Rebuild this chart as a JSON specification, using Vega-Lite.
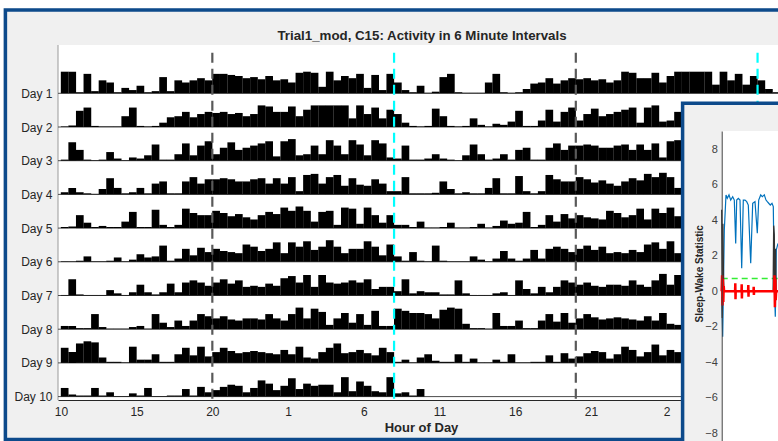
{
  "$schema": "https://vega.github.io/schema/vega-lite/v6.json",
  "width": 720,
  "height": 355,
  "autosize": {"type": "none"},
  "padding": {"left": 58, "top": 45, "right": 0, "bottom": 41},
  "background": "#f0f0f0",
  "view": {"fill": "white", "stroke": null},
  "config": {"font": "Liberation Sans", "view": {"stroke": null}},
  "title": {
    "text": "Trial1_mod, C15: Activity in 6 Minute Intervals",
    "frame": "group", "anchor": "middle", "offset": -43.6, "dx": 4,
    "fontSize": 13.3, "fontWeight": "bold", "color": "#262626"
  },
  "datasets": {
    "days": [{"d":1},{"d":2},{"d":3},{"d":4},{"d":5},{"d":6},{"d":7},{"d":8},{"d":9},{"d":10}],
    "vl": [{"h":20,"k":"pm"},{"h":32,"k":"am"},{"h":44,"k":"pm"},{"h":56,"k":"am"}],
    "thr": [{"t":0,"s":0.72},{"t":56.3,"s":0.72}],
    "sw": [{"t":0,"s":-0.3},{"t":1,"s":-2.56},{"t":2.6,"s":3.45},{"t":4.3,"s":5.43},{"t":5.6,"s":5.24},{"t":7.3,"s":5.43},{"t":9,"s":5.14},{"t":11,"s":5.33},{"t":12.6,"s":5.14},{"t":14,"s":2.7},{"t":15,"s":5.14},{"t":16.6,"s":5.24},{"t":18.3,"s":5.14},{"t":20,"s":1.3},{"t":21.6,"s":5.14},{"t":23.3,"s":5.14},{"t":25,"s":5.05},{"t":26.6,"s":4.86},{"t":29,"s":1.58},{"t":31,"s":4.96},{"t":33.3,"s":5.05},{"t":35.6,"s":3.27},{"t":37,"s":5.14},{"t":39,"s":5.43},{"t":40.6,"s":5.33},{"t":42.6,"s":5.43},{"t":44.3,"s":5.14},{"t":45.6,"s":5.05},{"t":47,"s":4.96},{"t":48.6,"s":4.86},{"t":50.3,"s":4.96},{"t":51.6,"s":4.77},{"t":52.6,"s":0.26},{"t":53.6,"s":-1.43},{"t":54.6,"s":2.33},{"t":56.3,"s":2.7}],
    "blk": [{"t":0,"s":4.6},{"t":0.6,"s":-1.5},{"t":1.2,"s":3.8},{"t":1.8,"s":0.6},{"t":2.4,"s":0},{"t":51.4,"s":0},{"t":52,"s":3.7},{"t":52.6,"s":3.2},{"t":53.2,"s":-0.6},{"t":53.8,"s":2.4},{"t":54.4,"s":0},{"t":56.3,"s":0}],
    "red": [{"t":0,"s":0},{"t":0.4,"s":0.9},{"t":0.8,"s":-0.8},{"t":1.2,"s":0.7},{"t":1.6,"s":-0.6},{"t":2,"s":0.3},{"t":2.4,"s":0},{"t":13.4,"s":0},{"t":13.6,"s":0.45},{"t":13.8,"s":-0.45},{"t":14,"s":0},{"t":19.8,"s":0},{"t":20,"s":0.4},{"t":20.2,"s":-0.4},{"t":20.4,"s":0},{"t":26.4,"s":0},{"t":26.6,"s":0.35},{"t":26.8,"s":-0.3},{"t":27,"s":0},{"t":31.8,"s":0},{"t":32,"s":0.25},{"t":32.2,"s":-0.2},{"t":32.4,"s":0},{"t":52.4,"s":0},{"t":52.8,"s":0.9},{"t":53.2,"s":-0.9},{"t":53.6,"s":0.7},{"t":54,"s":-0.5},{"t":54.4,"s":0},{"t":56.3,"s":0}],
    "act": [
{"d":1,"h":10.25,"a":20},{"d":1,"h":10.75,"a":20},{"d":1,"h":11.25,"a":1},{"d":1,"h":11.75,"a":18},{"d":1,"h":12.25,"a":2},{"d":1,"h":12.75,"a":12},{"d":1,"h":13.25,"a":10},{"d":1,"h":13.75,"a":1},{"d":1,"h":14.25,"a":5},{"d":1,"h":14.75,"a":3},{"d":1,"h":15.25,"a":7},{"d":1,"h":15.75,"a":1},{"d":1,"h":16.25,"a":2},{"d":1,"h":16.75,"a":15},{"d":1,"h":17.25,"a":2},{"d":1,"h":17.75,"a":12},{"d":1,"h":18.25,"a":10},{"d":1,"h":18.75,"a":12},{"d":1,"h":19.25,"a":14},{"d":1,"h":19.75,"a":12},{"d":1,"h":20.25,"a":18},{"d":1,"h":20.75,"a":18},{"d":1,"h":21.25,"a":17},{"d":1,"h":21.75,"a":16},
{"d":1,"h":22.25,"a":14},{"d":1,"h":22.75,"a":15},{"d":1,"h":23.25,"a":13},{"d":1,"h":23.75,"a":16},{"d":1,"h":24.25,"a":12},{"d":1,"h":24.75,"a":13},{"d":1,"h":25.25,"a":10},{"d":1,"h":25.75,"a":19},{"d":1,"h":26.25,"a":20},{"d":1,"h":26.75,"a":19},{"d":1,"h":27.25,"a":6},{"d":1,"h":27.75,"a":20},{"d":1,"h":28.25,"a":12},{"d":1,"h":28.75,"a":16},{"d":1,"h":29.25,"a":14},{"d":1,"h":29.75,"a":18},{"d":1,"h":30.25,"a":5},{"d":1,"h":30.75,"a":17},{"d":1,"h":31.25,"a":3},{"d":1,"h":31.75,"a":18},{"d":1,"h":32.25,"a":10},{"d":1,"h":32.75,"a":3},{"d":1,"h":33.25,"a":1},{"d":1,"h":33.75,"a":7},
{"d":1,"h":34.25,"a":0.5},{"d":1,"h":34.75,"a":1.5},{"d":1,"h":35.25,"a":15},{"d":1,"h":35.75,"a":18},{"d":1,"h":36.25,"a":1},{"d":1,"h":36.75,"a":0.5},{"d":1,"h":37.25,"a":0.5},{"d":1,"h":37.75,"a":0.5},{"d":1,"h":38.25,"a":10},{"d":1,"h":38.75,"a":18},{"d":1,"h":39.25,"a":1},{"d":1,"h":39.75,"a":0.5},{"d":1,"h":40.25,"a":1},{"d":1,"h":40.75,"a":4},{"d":1,"h":41.25,"a":9},{"d":1,"h":41.75,"a":10},{"d":1,"h":42.25,"a":14},{"d":1,"h":42.75,"a":9},{"d":1,"h":43.25,"a":12},{"d":1,"h":43.75,"a":14},{"d":1,"h":44.25,"a":13},{"d":1,"h":44.75,"a":14},{"d":1,"h":45.25,"a":12},{"d":1,"h":45.75,"a":13},
{"d":1,"h":46.25,"a":10},{"d":1,"h":46.75,"a":12},{"d":1,"h":47.25,"a":20},{"d":1,"h":47.75,"a":19},{"d":1,"h":48.25,"a":14},{"d":1,"h":48.75,"a":14},{"d":1,"h":49.25,"a":19},{"d":1,"h":49.75,"a":10},{"d":1,"h":50.25,"a":16},{"d":1,"h":50.75,"a":20},{"d":1,"h":51.25,"a":20},{"d":1,"h":51.75,"a":20},{"d":1,"h":52.25,"a":20},{"d":1,"h":52.75,"a":20},{"d":1,"h":53.25,"a":8},{"d":1,"h":53.75,"a":20},{"d":1,"h":54.25,"a":12},{"d":1,"h":54.75,"a":18},{"d":1,"h":55.25,"a":8},{"d":1,"h":55.75,"a":16},{"d":1,"h":56.25,"a":12},{"d":1,"h":56.75,"a":4},{"d":1,"h":57.25,"a":1},{"d":1,"h":57.75,"a":0.5},
{"d":2,"h":10.25,"a":0.5},{"d":2,"h":10.75,"a":1.5},{"d":2,"h":11.25,"a":15},{"d":2,"h":11.75,"a":18},{"d":2,"h":12.25,"a":1},{"d":2,"h":12.75,"a":0.5},{"d":2,"h":13.25,"a":0.5},{"d":2,"h":13.75,"a":0.5},{"d":2,"h":14.25,"a":10},{"d":2,"h":14.75,"a":18},{"d":2,"h":15.25,"a":1},{"d":2,"h":15.75,"a":0.5},{"d":2,"h":16.25,"a":1},{"d":2,"h":16.75,"a":4},{"d":2,"h":17.25,"a":9},{"d":2,"h":17.75,"a":10},{"d":2,"h":18.25,"a":14},{"d":2,"h":18.75,"a":9},{"d":2,"h":19.25,"a":12},{"d":2,"h":19.75,"a":14},{"d":2,"h":20.25,"a":13},{"d":2,"h":20.75,"a":14},{"d":2,"h":21.25,"a":12},{"d":2,"h":21.75,"a":13},
{"d":2,"h":22.25,"a":10},{"d":2,"h":22.75,"a":12},{"d":2,"h":23.25,"a":20},{"d":2,"h":23.75,"a":19},{"d":2,"h":24.25,"a":14},{"d":2,"h":24.75,"a":14},{"d":2,"h":25.25,"a":19},{"d":2,"h":25.75,"a":10},{"d":2,"h":26.25,"a":16},{"d":2,"h":26.75,"a":20},{"d":2,"h":27.25,"a":20},{"d":2,"h":27.75,"a":20},{"d":2,"h":28.25,"a":20},{"d":2,"h":28.75,"a":20},{"d":2,"h":29.25,"a":8},{"d":2,"h":29.75,"a":20},{"d":2,"h":30.25,"a":12},{"d":2,"h":30.75,"a":18},{"d":2,"h":31.25,"a":8},{"d":2,"h":31.75,"a":16},{"d":2,"h":32.25,"a":12},{"d":2,"h":32.75,"a":4},{"d":2,"h":33.25,"a":1},{"d":2,"h":33.75,"a":0.5},
{"d":2,"h":34.25,"a":1},{"d":2,"h":34.75,"a":17},{"d":2,"h":35.25,"a":10},{"d":2,"h":35.75,"a":1},{"d":2,"h":36.25,"a":0.5},{"d":2,"h":36.75,"a":1},{"d":2,"h":37.25,"a":8},{"d":2,"h":37.75,"a":2},{"d":2,"h":38.25,"a":0.5},{"d":2,"h":38.75,"a":3},{"d":2,"h":39.25,"a":2},{"d":2,"h":39.75,"a":5},{"d":2,"h":40.25,"a":15},{"d":2,"h":40.75,"a":1},{"d":2,"h":41.25,"a":1},{"d":2,"h":41.75,"a":6},{"d":2,"h":42.25,"a":16},{"d":2,"h":42.75,"a":5},{"d":2,"h":43.25,"a":14},{"d":2,"h":43.75,"a":18},{"d":2,"h":44.25,"a":6},{"d":2,"h":44.75,"a":12},{"d":2,"h":45.25,"a":17},{"d":2,"h":45.75,"a":10},
{"d":2,"h":46.25,"a":12},{"d":2,"h":46.75,"a":14},{"d":2,"h":47.25,"a":16},{"d":2,"h":47.75,"a":18},{"d":2,"h":48.25,"a":4},{"d":2,"h":48.75,"a":18},{"d":2,"h":49.25,"a":20},{"d":2,"h":49.75,"a":5},{"d":2,"h":50.25,"a":6},{"d":2,"h":50.75,"a":14},{"d":2,"h":51.25,"a":6},{"d":2,"h":51.75,"a":19},{"d":2,"h":52.25,"a":14},{"d":2,"h":52.75,"a":6},{"d":2,"h":53.25,"a":19},{"d":2,"h":53.75,"a":15},{"d":2,"h":54.25,"a":5},{"d":2,"h":54.75,"a":19},{"d":2,"h":55.25,"a":16},{"d":2,"h":55.75,"a":3},{"d":2,"h":56.25,"a":2},{"d":2,"h":56.75,"a":14},{"d":2,"h":57.25,"a":1},{"d":2,"h":57.75,"a":1},
{"d":3,"h":10.25,"a":1},{"d":3,"h":10.75,"a":17},{"d":3,"h":11.25,"a":10},{"d":3,"h":11.75,"a":1},{"d":3,"h":12.25,"a":0.5},{"d":3,"h":12.75,"a":1},{"d":3,"h":13.25,"a":8},{"d":3,"h":13.75,"a":2},{"d":3,"h":14.25,"a":0.5},{"d":3,"h":14.75,"a":3},{"d":3,"h":15.25,"a":2},{"d":3,"h":15.75,"a":5},{"d":3,"h":16.25,"a":15},{"d":3,"h":16.75,"a":1},{"d":3,"h":17.25,"a":1},{"d":3,"h":17.75,"a":6},{"d":3,"h":18.25,"a":16},{"d":3,"h":18.75,"a":5},{"d":3,"h":19.25,"a":14},{"d":3,"h":19.75,"a":18},{"d":3,"h":20.25,"a":6},{"d":3,"h":20.75,"a":12},{"d":3,"h":21.25,"a":17},{"d":3,"h":21.75,"a":10},
{"d":3,"h":22.25,"a":12},{"d":3,"h":22.75,"a":14},{"d":3,"h":23.25,"a":16},{"d":3,"h":23.75,"a":18},{"d":3,"h":24.25,"a":4},{"d":3,"h":24.75,"a":18},{"d":3,"h":25.25,"a":20},{"d":3,"h":25.75,"a":5},{"d":3,"h":26.25,"a":6},{"d":3,"h":26.75,"a":14},{"d":3,"h":27.25,"a":6},{"d":3,"h":27.75,"a":19},{"d":3,"h":28.25,"a":14},{"d":3,"h":28.75,"a":6},{"d":3,"h":29.25,"a":19},{"d":3,"h":29.75,"a":15},{"d":3,"h":30.25,"a":5},{"d":3,"h":30.75,"a":19},{"d":3,"h":31.25,"a":16},{"d":3,"h":31.75,"a":3},{"d":3,"h":32.25,"a":2},{"d":3,"h":32.75,"a":14},{"d":3,"h":33.25,"a":1},{"d":3,"h":33.75,"a":1},
{"d":3,"h":34.25,"a":2},{"d":3,"h":34.75,"a":6},{"d":3,"h":35.25,"a":2},{"d":3,"h":35.75,"a":1},{"d":3,"h":36.25,"a":0.5},{"d":3,"h":36.75,"a":5},{"d":3,"h":37.25,"a":15},{"d":3,"h":37.75,"a":6},{"d":3,"h":38.25,"a":1},{"d":3,"h":38.75,"a":2},{"d":3,"h":39.25,"a":6},{"d":3,"h":39.75,"a":1},{"d":3,"h":40.25,"a":10},{"d":3,"h":40.75,"a":12},{"d":3,"h":41.25,"a":1},{"d":3,"h":41.75,"a":1},{"d":3,"h":42.25,"a":12},{"d":3,"h":42.75,"a":16},{"d":3,"h":43.25,"a":10},{"d":3,"h":43.75,"a":14},{"d":3,"h":44.25,"a":14},{"d":3,"h":44.75,"a":15},{"d":3,"h":45.25,"a":14},{"d":3,"h":45.75,"a":12},
{"d":3,"h":46.25,"a":12},{"d":3,"h":46.75,"a":14},{"d":3,"h":47.25,"a":15},{"d":3,"h":47.75,"a":10},{"d":3,"h":48.25,"a":15},{"d":3,"h":48.75,"a":10},{"d":3,"h":49.25,"a":16},{"d":3,"h":49.75,"a":3},{"d":3,"h":50.25,"a":18},{"d":3,"h":50.75,"a":19},{"d":3,"h":51.25,"a":10},{"d":3,"h":51.75,"a":16},{"d":3,"h":52.25,"a":18},{"d":3,"h":52.75,"a":8},{"d":3,"h":53.25,"a":15},{"d":3,"h":53.75,"a":9},{"d":3,"h":54.25,"a":8},{"d":3,"h":54.75,"a":14},{"d":3,"h":55.25,"a":10},{"d":3,"h":55.75,"a":3},{"d":3,"h":56.25,"a":3},{"d":3,"h":56.75,"a":16},{"d":3,"h":57.25,"a":1},{"d":3,"h":57.75,"a":1},
{"d":4,"h":10.25,"a":2},{"d":4,"h":10.75,"a":6},{"d":4,"h":11.25,"a":2},{"d":4,"h":11.75,"a":1},{"d":4,"h":12.25,"a":0.5},{"d":4,"h":12.75,"a":5},{"d":4,"h":13.25,"a":15},{"d":4,"h":13.75,"a":6},{"d":4,"h":14.25,"a":1},{"d":4,"h":14.75,"a":2},{"d":4,"h":15.25,"a":6},{"d":4,"h":15.75,"a":1},{"d":4,"h":16.25,"a":10},{"d":4,"h":16.75,"a":12},{"d":4,"h":17.25,"a":1},{"d":4,"h":17.75,"a":1},{"d":4,"h":18.25,"a":12},{"d":4,"h":18.75,"a":16},{"d":4,"h":19.25,"a":10},{"d":4,"h":19.75,"a":14},{"d":4,"h":20.25,"a":14},{"d":4,"h":20.75,"a":15},{"d":4,"h":21.25,"a":14},{"d":4,"h":21.75,"a":12},
{"d":4,"h":22.25,"a":12},{"d":4,"h":22.75,"a":14},{"d":4,"h":23.25,"a":15},{"d":4,"h":23.75,"a":10},{"d":4,"h":24.25,"a":15},{"d":4,"h":24.75,"a":10},{"d":4,"h":25.25,"a":16},{"d":4,"h":25.75,"a":3},{"d":4,"h":26.25,"a":18},{"d":4,"h":26.75,"a":19},{"d":4,"h":27.25,"a":10},{"d":4,"h":27.75,"a":16},{"d":4,"h":28.25,"a":18},{"d":4,"h":28.75,"a":8},{"d":4,"h":29.25,"a":15},{"d":4,"h":29.75,"a":9},{"d":4,"h":30.25,"a":8},{"d":4,"h":30.75,"a":14},{"d":4,"h":31.25,"a":10},{"d":4,"h":31.75,"a":3},{"d":4,"h":32.25,"a":3},{"d":4,"h":32.75,"a":16},{"d":4,"h":33.25,"a":1},{"d":4,"h":33.75,"a":1},
{"d":4,"h":34.25,"a":1},{"d":4,"h":34.75,"a":1.5},{"d":4,"h":35.25,"a":12},{"d":4,"h":35.75,"a":5},{"d":4,"h":36.25,"a":1},{"d":4,"h":36.75,"a":2},{"d":4,"h":37.25,"a":1},{"d":4,"h":37.75,"a":1},{"d":4,"h":38.25,"a":6},{"d":4,"h":38.75,"a":15},{"d":4,"h":39.25,"a":1},{"d":4,"h":39.75,"a":1},{"d":4,"h":40.25,"a":17},{"d":4,"h":40.75,"a":3},{"d":4,"h":41.25,"a":1},{"d":4,"h":41.75,"a":3},{"d":4,"h":42.25,"a":18},{"d":4,"h":42.75,"a":14},{"d":4,"h":43.25,"a":12},{"d":4,"h":43.75,"a":12},{"d":4,"h":44.25,"a":16},{"d":4,"h":44.75,"a":14},{"d":4,"h":45.25,"a":11},{"d":4,"h":45.75,"a":13},
{"d":4,"h":46.25,"a":10},{"d":4,"h":46.75,"a":8},{"d":4,"h":47.25,"a":12},{"d":4,"h":47.75,"a":15},{"d":4,"h":48.25,"a":13},{"d":4,"h":48.75,"a":19},{"d":4,"h":49.25,"a":16},{"d":4,"h":49.75,"a":20},{"d":4,"h":50.25,"a":16},{"d":4,"h":50.75,"a":6},{"d":4,"h":51.25,"a":15},{"d":4,"h":51.75,"a":16},{"d":4,"h":52.25,"a":3},{"d":4,"h":52.75,"a":19},{"d":4,"h":53.25,"a":18},{"d":4,"h":53.75,"a":4},{"d":4,"h":54.25,"a":19},{"d":4,"h":54.75,"a":12},{"d":4,"h":55.25,"a":5},{"d":4,"h":55.75,"a":12},{"d":4,"h":56.25,"a":3},{"d":4,"h":56.75,"a":3},{"d":4,"h":57.25,"a":1},{"d":4,"h":57.75,"a":6},
{"d":5,"h":10.25,"a":1},{"d":5,"h":10.75,"a":1.5},{"d":5,"h":11.25,"a":12},{"d":5,"h":11.75,"a":5},{"d":5,"h":12.25,"a":1},{"d":5,"h":12.75,"a":2},{"d":5,"h":13.25,"a":1},{"d":5,"h":13.75,"a":1},{"d":5,"h":14.25,"a":6},{"d":5,"h":14.75,"a":15},{"d":5,"h":15.25,"a":1},{"d":5,"h":15.75,"a":1},{"d":5,"h":16.25,"a":17},{"d":5,"h":16.75,"a":3},{"d":5,"h":17.25,"a":1},{"d":5,"h":17.75,"a":3},{"d":5,"h":18.25,"a":18},{"d":5,"h":18.75,"a":14},{"d":5,"h":19.25,"a":12},{"d":5,"h":19.75,"a":12},{"d":5,"h":20.25,"a":16},{"d":5,"h":20.75,"a":14},{"d":5,"h":21.25,"a":11},{"d":5,"h":21.75,"a":13},
{"d":5,"h":22.25,"a":10},{"d":5,"h":22.75,"a":8},{"d":5,"h":23.25,"a":12},{"d":5,"h":23.75,"a":15},{"d":5,"h":24.25,"a":13},{"d":5,"h":24.75,"a":19},{"d":5,"h":25.25,"a":16},{"d":5,"h":25.75,"a":20},{"d":5,"h":26.25,"a":16},{"d":5,"h":26.75,"a":6},{"d":5,"h":27.25,"a":15},{"d":5,"h":27.75,"a":16},{"d":5,"h":28.25,"a":3},{"d":5,"h":28.75,"a":19},{"d":5,"h":29.25,"a":18},{"d":5,"h":29.75,"a":4},{"d":5,"h":30.25,"a":19},{"d":5,"h":30.75,"a":12},{"d":5,"h":31.25,"a":5},{"d":5,"h":31.75,"a":12},{"d":5,"h":32.25,"a":3},{"d":5,"h":32.75,"a":3},{"d":5,"h":33.25,"a":1},{"d":5,"h":33.75,"a":6},
{"d":5,"h":34.25,"a":0.5},{"d":5,"h":34.75,"a":0.5},{"d":5,"h":35.25,"a":1},{"d":5,"h":35.75,"a":5},{"d":5,"h":36.25,"a":0.5},{"d":5,"h":36.75,"a":0.5},{"d":5,"h":37.25,"a":1},{"d":5,"h":37.75,"a":4},{"d":5,"h":38.25,"a":0.5},{"d":5,"h":38.75,"a":2},{"d":5,"h":39.25,"a":7},{"d":5,"h":39.75,"a":4},{"d":5,"h":40.25,"a":5},{"d":5,"h":40.75,"a":15},{"d":5,"h":41.25,"a":1},{"d":5,"h":41.75,"a":3},{"d":5,"h":42.25,"a":12},{"d":5,"h":42.75,"a":6},{"d":5,"h":43.25,"a":13},{"d":5,"h":43.75,"a":9},{"d":5,"h":44.25,"a":12},{"d":5,"h":44.75,"a":10},{"d":5,"h":45.25,"a":9},{"d":5,"h":45.75,"a":8},
{"d":5,"h":46.25,"a":16},{"d":5,"h":46.75,"a":14},{"d":5,"h":47.25,"a":10},{"d":5,"h":47.75,"a":12},{"d":5,"h":48.25,"a":18},{"d":5,"h":48.75,"a":8},{"d":5,"h":49.25,"a":18},{"d":5,"h":49.75,"a":14},{"d":5,"h":50.25,"a":19},{"d":5,"h":50.75,"a":11},{"d":5,"h":51.25,"a":14},{"d":5,"h":51.75,"a":20},{"d":5,"h":52.25,"a":14},{"d":5,"h":52.75,"a":8},{"d":5,"h":53.25,"a":12},{"d":5,"h":53.75,"a":12},{"d":5,"h":54.25,"a":19},{"d":5,"h":54.75,"a":14},{"d":5,"h":55.25,"a":6},{"d":5,"h":55.75,"a":16},{"d":5,"h":56.25,"a":5},{"d":5,"h":56.75,"a":1},{"d":5,"h":57.25,"a":9},{"d":5,"h":57.75,"a":1},
{"d":6,"h":10.25,"a":0.5},{"d":6,"h":10.75,"a":0.5},{"d":6,"h":11.25,"a":1},{"d":6,"h":11.75,"a":5},{"d":6,"h":12.25,"a":0.5},{"d":6,"h":12.75,"a":0.5},{"d":6,"h":13.25,"a":1},{"d":6,"h":13.75,"a":4},{"d":6,"h":14.25,"a":0.5},{"d":6,"h":14.75,"a":2},{"d":6,"h":15.25,"a":7},{"d":6,"h":15.75,"a":4},{"d":6,"h":16.25,"a":5},{"d":6,"h":16.75,"a":15},{"d":6,"h":17.25,"a":1},{"d":6,"h":17.75,"a":3},{"d":6,"h":18.25,"a":12},{"d":6,"h":18.75,"a":6},{"d":6,"h":19.25,"a":13},{"d":6,"h":19.75,"a":9},{"d":6,"h":20.25,"a":12},{"d":6,"h":20.75,"a":10},{"d":6,"h":21.25,"a":9},{"d":6,"h":21.75,"a":8},
{"d":6,"h":22.25,"a":16},{"d":6,"h":22.75,"a":14},{"d":6,"h":23.25,"a":10},{"d":6,"h":23.75,"a":12},{"d":6,"h":24.25,"a":18},{"d":6,"h":24.75,"a":8},{"d":6,"h":25.25,"a":18},{"d":6,"h":25.75,"a":14},{"d":6,"h":26.25,"a":19},{"d":6,"h":26.75,"a":11},{"d":6,"h":27.25,"a":14},{"d":6,"h":27.75,"a":20},{"d":6,"h":28.25,"a":14},{"d":6,"h":28.75,"a":8},{"d":6,"h":29.25,"a":12},{"d":6,"h":29.75,"a":12},{"d":6,"h":30.25,"a":19},{"d":6,"h":30.75,"a":14},{"d":6,"h":31.25,"a":6},{"d":6,"h":31.75,"a":16},{"d":6,"h":32.25,"a":5},{"d":6,"h":32.75,"a":1},{"d":6,"h":33.25,"a":9},{"d":6,"h":33.75,"a":1},
{"d":6,"h":34.25,"a":0.5},{"d":6,"h":34.75,"a":15},{"d":6,"h":35.25,"a":1},{"d":6,"h":35.75,"a":0.5},{"d":6,"h":36.25,"a":0.5},{"d":6,"h":36.75,"a":0.5},{"d":6,"h":37.25,"a":5},{"d":6,"h":37.75,"a":2},{"d":6,"h":38.25,"a":0.5},{"d":6,"h":38.75,"a":3},{"d":6,"h":39.25,"a":10},{"d":6,"h":39.75,"a":3},{"d":6,"h":40.25,"a":1},{"d":6,"h":40.75,"a":3},{"d":6,"h":41.25,"a":11},{"d":6,"h":41.75,"a":3},{"d":6,"h":42.25,"a":12},{"d":6,"h":42.75,"a":14},{"d":6,"h":43.25,"a":12},{"d":6,"h":43.75,"a":9},{"d":6,"h":44.25,"a":12},{"d":6,"h":44.75,"a":15},{"d":6,"h":45.25,"a":11},{"d":6,"h":45.75,"a":14},
{"d":6,"h":46.25,"a":8},{"d":6,"h":46.75,"a":9},{"d":6,"h":47.25,"a":8},{"d":6,"h":47.75,"a":11},{"d":6,"h":48.25,"a":9},{"d":6,"h":48.75,"a":16},{"d":6,"h":49.25,"a":18},{"d":6,"h":49.75,"a":12},{"d":6,"h":50.25,"a":19},{"d":6,"h":50.75,"a":8},{"d":6,"h":51.25,"a":19},{"d":6,"h":51.75,"a":12},{"d":6,"h":52.25,"a":11},{"d":6,"h":52.75,"a":12},{"d":6,"h":53.25,"a":14},{"d":6,"h":53.75,"a":12},{"d":6,"h":54.25,"a":15},{"d":6,"h":54.75,"a":6},{"d":6,"h":55.25,"a":8},{"d":6,"h":55.75,"a":8},{"d":6,"h":56.25,"a":4},{"d":6,"h":56.75,"a":15},{"d":6,"h":57.25,"a":2},{"d":6,"h":57.75,"a":4},
{"d":7,"h":10.25,"a":0.5},{"d":7,"h":10.75,"a":15},{"d":7,"h":11.25,"a":1},{"d":7,"h":11.75,"a":0.5},{"d":7,"h":12.25,"a":0.5},{"d":7,"h":12.75,"a":0.5},{"d":7,"h":13.25,"a":5},{"d":7,"h":13.75,"a":2},{"d":7,"h":14.25,"a":0.5},{"d":7,"h":14.75,"a":3},{"d":7,"h":15.25,"a":10},{"d":7,"h":15.75,"a":3},{"d":7,"h":16.25,"a":1},{"d":7,"h":16.75,"a":3},{"d":7,"h":17.25,"a":11},{"d":7,"h":17.75,"a":3},{"d":7,"h":18.25,"a":12},{"d":7,"h":18.75,"a":14},{"d":7,"h":19.25,"a":12},{"d":7,"h":19.75,"a":9},{"d":7,"h":20.25,"a":12},{"d":7,"h":20.75,"a":15},{"d":7,"h":21.25,"a":11},{"d":7,"h":21.75,"a":14},
{"d":7,"h":22.25,"a":8},{"d":7,"h":22.75,"a":9},{"d":7,"h":23.25,"a":8},{"d":7,"h":23.75,"a":11},{"d":7,"h":24.25,"a":9},{"d":7,"h":24.75,"a":16},{"d":7,"h":25.25,"a":18},{"d":7,"h":25.75,"a":12},{"d":7,"h":26.25,"a":19},{"d":7,"h":26.75,"a":8},{"d":7,"h":27.25,"a":19},{"d":7,"h":27.75,"a":12},{"d":7,"h":28.25,"a":11},{"d":7,"h":28.75,"a":12},{"d":7,"h":29.25,"a":14},{"d":7,"h":29.75,"a":12},{"d":7,"h":30.25,"a":15},{"d":7,"h":30.75,"a":6},{"d":7,"h":31.25,"a":8},{"d":7,"h":31.75,"a":8},{"d":7,"h":32.25,"a":4},{"d":7,"h":32.75,"a":15},{"d":7,"h":33.25,"a":2},{"d":7,"h":33.75,"a":4},
{"d":7,"h":34.25,"a":3},{"d":7,"h":34.75,"a":3},{"d":7,"h":35.25,"a":1},{"d":7,"h":35.75,"a":1},{"d":7,"h":36.25,"a":14},{"d":7,"h":36.75,"a":2},{"d":7,"h":37.25,"a":0.5},{"d":7,"h":37.75,"a":0.5},{"d":7,"h":38.25,"a":0.5},{"d":7,"h":38.75,"a":2},{"d":7,"h":39.25,"a":3},{"d":7,"h":39.75,"a":0.5},{"d":7,"h":40.25,"a":14},{"d":7,"h":40.75,"a":6},{"d":7,"h":41.25,"a":2},{"d":7,"h":41.75,"a":8},{"d":7,"h":42.25,"a":3},{"d":7,"h":42.75,"a":8},{"d":7,"h":43.25,"a":14},{"d":7,"h":43.75,"a":12},{"d":7,"h":44.25,"a":10},{"d":7,"h":44.75,"a":12},{"d":7,"h":45.25,"a":9},{"d":7,"h":45.75,"a":8},
{"d":7,"h":46.25,"a":10},{"d":7,"h":46.75,"a":10},{"d":7,"h":47.25,"a":9},{"d":7,"h":47.75,"a":14},{"d":7,"h":48.25,"a":10},{"d":7,"h":48.75,"a":8},{"d":7,"h":49.25,"a":14},{"d":7,"h":49.75,"a":20},{"d":7,"h":50.25,"a":10},{"d":7,"h":50.75,"a":19},{"d":7,"h":51.25,"a":16},{"d":7,"h":51.75,"a":4},{"d":7,"h":52.25,"a":10},{"d":7,"h":52.75,"a":15},{"d":7,"h":53.25,"a":6},{"d":7,"h":53.75,"a":14},{"d":7,"h":54.25,"a":4},{"d":7,"h":54.75,"a":17},{"d":7,"h":55.25,"a":3},{"d":7,"h":55.75,"a":3},{"d":7,"h":56.25,"a":19},{"d":7,"h":56.75,"a":17},{"d":7,"h":57.25,"a":15},{"d":7,"h":57.75,"a":15},
{"d":8,"h":10.25,"a":3},{"d":8,"h":10.75,"a":3},{"d":8,"h":11.25,"a":1},{"d":8,"h":11.75,"a":1},{"d":8,"h":12.25,"a":14},{"d":8,"h":12.75,"a":2},{"d":8,"h":13.25,"a":0.5},{"d":8,"h":13.75,"a":0.5},{"d":8,"h":14.25,"a":0.5},{"d":8,"h":14.75,"a":2},{"d":8,"h":15.25,"a":3},{"d":8,"h":15.75,"a":0.5},{"d":8,"h":16.25,"a":14},{"d":8,"h":16.75,"a":6},{"d":8,"h":17.25,"a":2},{"d":8,"h":17.75,"a":8},{"d":8,"h":18.25,"a":3},{"d":8,"h":18.75,"a":8},{"d":8,"h":19.25,"a":14},{"d":8,"h":19.75,"a":12},{"d":8,"h":20.25,"a":10},{"d":8,"h":20.75,"a":12},{"d":8,"h":21.25,"a":9},{"d":8,"h":21.75,"a":8},
{"d":8,"h":22.25,"a":10},{"d":8,"h":22.75,"a":10},{"d":8,"h":23.25,"a":9},{"d":8,"h":23.75,"a":14},{"d":8,"h":24.25,"a":10},{"d":8,"h":24.75,"a":8},{"d":8,"h":25.25,"a":14},{"d":8,"h":25.75,"a":20},{"d":8,"h":26.25,"a":10},{"d":8,"h":26.75,"a":19},{"d":8,"h":27.25,"a":16},{"d":8,"h":27.75,"a":4},{"d":8,"h":28.25,"a":10},{"d":8,"h":28.75,"a":15},{"d":8,"h":29.25,"a":6},{"d":8,"h":29.75,"a":14},{"d":8,"h":30.25,"a":4},{"d":8,"h":30.75,"a":17},{"d":8,"h":31.25,"a":3},{"d":8,"h":31.75,"a":3},{"d":8,"h":32.25,"a":19},{"d":8,"h":32.75,"a":17},{"d":8,"h":33.25,"a":15},{"d":8,"h":33.75,"a":15},
{"d":8,"h":34.25,"a":14},{"d":8,"h":34.75,"a":10},{"d":8,"h":35.25,"a":18},{"d":8,"h":35.75,"a":20},{"d":8,"h":36.25,"a":19},{"d":8,"h":36.75,"a":5},{"d":8,"h":37.25,"a":1},{"d":8,"h":37.75,"a":1},{"d":8,"h":38.25,"a":0.5},{"d":8,"h":38.75,"a":15},{"d":8,"h":39.25,"a":3},{"d":8,"h":39.75,"a":3},{"d":8,"h":40.25,"a":8},{"d":8,"h":40.75,"a":1},{"d":8,"h":41.25,"a":1},{"d":8,"h":41.75,"a":8},{"d":8,"h":42.25,"a":14},{"d":8,"h":42.75,"a":7},{"d":8,"h":43.25,"a":15},{"d":8,"h":43.75,"a":6},{"d":8,"h":44.25,"a":10},{"d":8,"h":44.75,"a":14},{"d":8,"h":45.25,"a":11},{"d":8,"h":45.75,"a":9},
{"d":8,"h":46.25,"a":10},{"d":8,"h":46.75,"a":11},{"d":8,"h":47.25,"a":10},{"d":8,"h":47.75,"a":9},{"d":8,"h":48.25,"a":8},{"d":8,"h":48.75,"a":12},{"d":8,"h":49.25,"a":8},{"d":8,"h":49.75,"a":15},{"d":8,"h":50.25,"a":5},{"d":8,"h":50.75,"a":4},{"d":8,"h":51.25,"a":10},{"d":8,"h":51.75,"a":14},{"d":8,"h":52.25,"a":18},{"d":8,"h":52.75,"a":9},{"d":8,"h":53.25,"a":10},{"d":8,"h":53.75,"a":12},{"d":8,"h":54.25,"a":9},{"d":8,"h":54.75,"a":7},{"d":8,"h":55.25,"a":14},{"d":8,"h":55.75,"a":10},{"d":8,"h":56.25,"a":1},{"d":8,"h":56.75,"a":3},{"d":8,"h":57.25,"a":0.5},{"d":8,"h":57.75,"a":5},
{"d":9,"h":10.25,"a":14},{"d":9,"h":10.75,"a":10},{"d":9,"h":11.25,"a":18},{"d":9,"h":11.75,"a":20},{"d":9,"h":12.25,"a":19},{"d":9,"h":12.75,"a":5},{"d":9,"h":13.25,"a":1},{"d":9,"h":13.75,"a":1},{"d":9,"h":14.25,"a":0.5},{"d":9,"h":14.75,"a":15},{"d":9,"h":15.25,"a":3},{"d":9,"h":15.75,"a":3},{"d":9,"h":16.25,"a":8},{"d":9,"h":16.75,"a":1},{"d":9,"h":17.25,"a":1},{"d":9,"h":17.75,"a":8},{"d":9,"h":18.25,"a":14},{"d":9,"h":18.75,"a":7},{"d":9,"h":19.25,"a":15},{"d":9,"h":19.75,"a":6},{"d":9,"h":20.25,"a":10},{"d":9,"h":20.75,"a":14},{"d":9,"h":21.25,"a":11},{"d":9,"h":21.75,"a":9},
{"d":9,"h":22.25,"a":10},{"d":9,"h":22.75,"a":11},{"d":9,"h":23.25,"a":10},{"d":9,"h":23.75,"a":9},{"d":9,"h":24.25,"a":8},{"d":9,"h":24.75,"a":12},{"d":9,"h":25.25,"a":8},{"d":9,"h":25.75,"a":15},{"d":9,"h":26.25,"a":5},{"d":9,"h":26.75,"a":4},{"d":9,"h":27.25,"a":10},{"d":9,"h":27.75,"a":14},{"d":9,"h":28.25,"a":18},{"d":9,"h":28.75,"a":9},{"d":9,"h":29.25,"a":10},{"d":9,"h":29.75,"a":12},{"d":9,"h":30.25,"a":9},{"d":9,"h":30.75,"a":7},{"d":9,"h":31.25,"a":14},{"d":9,"h":31.75,"a":10},{"d":9,"h":32.25,"a":1},{"d":9,"h":32.75,"a":3},{"d":9,"h":33.25,"a":0.5},{"d":9,"h":33.75,"a":5},
{"d":9,"h":34.25,"a":8},{"d":9,"h":34.75,"a":2},{"d":9,"h":35.25,"a":1},{"d":9,"h":35.75,"a":1},{"d":9,"h":36.25,"a":8},{"d":9,"h":36.75,"a":1},{"d":9,"h":37.25,"a":4},{"d":9,"h":37.75,"a":0.5},{"d":9,"h":38.25,"a":0.5},{"d":9,"h":38.75,"a":3},{"d":9,"h":39.25,"a":1},{"d":9,"h":39.75,"a":8},{"d":9,"h":40.25,"a":0.5},{"d":9,"h":40.75,"a":0.5},{"d":9,"h":41.25,"a":1},{"d":9,"h":41.75,"a":1},{"d":9,"h":42.25,"a":7},{"d":9,"h":42.75,"a":1},{"d":9,"h":43.25,"a":9},{"d":9,"h":43.75,"a":4},{"d":9,"h":44.25,"a":6},{"d":9,"h":44.75,"a":9},{"d":9,"h":45.25,"a":11},{"d":9,"h":45.75,"a":10},
{"d":9,"h":46.25,"a":4},{"d":9,"h":46.75,"a":8},{"d":9,"h":47.25,"a":15},{"d":9,"h":47.75,"a":12},{"d":9,"h":48.25,"a":6},{"d":9,"h":48.75,"a":10},{"d":9,"h":49.25,"a":17},{"d":9,"h":49.75,"a":7},{"d":9,"h":50.25,"a":12},{"d":9,"h":50.75,"a":10},{"d":9,"h":51.25,"a":11},{"d":9,"h":51.75,"a":11},{"d":9,"h":52.25,"a":4},{"d":9,"h":52.75,"a":18},{"d":9,"h":53.25,"a":5},{"d":9,"h":53.75,"a":14},{"d":9,"h":54.25,"a":10},{"d":9,"h":54.75,"a":5},{"d":9,"h":55.25,"a":4},{"d":9,"h":55.75,"a":18},{"d":9,"h":56.25,"a":3},{"d":9,"h":56.75,"a":4},{"d":9,"h":57.25,"a":1},{"d":9,"h":57.75,"a":7},
{"d":10,"h":10.25,"a":8},{"d":10,"h":10.75,"a":2},{"d":10,"h":11.25,"a":1},{"d":10,"h":11.75,"a":1},{"d":10,"h":12.25,"a":8},{"d":10,"h":12.75,"a":1},{"d":10,"h":13.25,"a":4},{"d":10,"h":13.75,"a":0.5},{"d":10,"h":14.25,"a":0.5},{"d":10,"h":14.75,"a":3},{"d":10,"h":15.25,"a":1},{"d":10,"h":15.75,"a":8},{"d":10,"h":16.25,"a":0.5},{"d":10,"h":16.75,"a":0.5},{"d":10,"h":17.25,"a":1},{"d":10,"h":17.75,"a":1},{"d":10,"h":18.25,"a":7},{"d":10,"h":18.75,"a":1},{"d":10,"h":19.25,"a":9},{"d":10,"h":19.75,"a":4},{"d":10,"h":20.25,"a":6},{"d":10,"h":20.75,"a":9},{"d":10,"h":21.25,"a":11},{"d":10,"h":21.75,"a":10},
{"d":10,"h":22.25,"a":4},{"d":10,"h":22.75,"a":8},{"d":10,"h":23.25,"a":15},{"d":10,"h":23.75,"a":12},{"d":10,"h":24.25,"a":6},{"d":10,"h":24.75,"a":10},{"d":10,"h":25.25,"a":17},{"d":10,"h":25.75,"a":7},{"d":10,"h":26.25,"a":12},{"d":10,"h":26.75,"a":10},{"d":10,"h":27.25,"a":11},{"d":10,"h":27.75,"a":11},{"d":10,"h":28.25,"a":4},{"d":10,"h":28.75,"a":18},{"d":10,"h":29.25,"a":5},{"d":10,"h":29.75,"a":14},{"d":10,"h":30.25,"a":10},{"d":10,"h":30.75,"a":5},{"d":10,"h":31.25,"a":4},{"d":10,"h":31.75,"a":18},{"d":10,"h":32.25,"a":3},{"d":10,"h":32.75,"a":4},{"d":10,"h":33.25,"a":1},{"d":10,"h":33.75,"a":7}
    ]
  },
  "layer": [
    {
      "layer": [
        {
          "data": {"values": [{}]},
          "mark": {"type": "rect", "fill": "white"},
          "encoding": {
            "x": {"datum": 5, "type": "quantitative", "scale": {"domain": [9.81, 57.35], "nice": false, "zero": false}},
            "x2": {"datum": 70},
            "y": {"datum": -1.798, "type": "quantitative", "scale": {"domain": [-0.433, 10.101], "range": [0, 355], "nice": false, "zero": false}, "axis": null},
            "y2": {"datum": -1.522}
          }
        },
        {
          "data": {"values": [{}]},
          "mark": {"type": "rect", "fill": "white"},
          "encoding": {
            "x": {"datum": 5, "type": "quantitative", "scale": {"domain": [9.81, 57.35], "nice": false, "zero": false}},
            "x2": {"datum": 6.211},
            "y": {"datum": -1.798, "type": "quantitative", "scale": {"domain": [-0.433, 10.101], "range": [0, 355], "nice": false, "zero": false}, "axis": null},
            "y2": {"datum": 14}
          }
        },
        {
          "data": {"values": [{}]},
          "mark": {"type": "rect", "fill": "transparent", "stroke": "#0d4a8b", "strokeWidth": 3.5},
          "encoding": {
            "x": {"datum": 6.337, "type": "quantitative", "scale": {"domain": [9.81, 57.35], "nice": false, "zero": false}},
            "x2": {"datum": 70},
            "y": {"datum": -1.472, "type": "quantitative", "scale": {"domain": [-0.433, 10.101], "range": [0, 355], "nice": false, "zero": false}, "axis": null},
            "y2": {"datum": 11.276}
          }
        },
        {
          "data": {"values": [{}]},
          "mark": {"type": "rule", "color": "#9a9a9a", "strokeWidth": 1},
          "encoding": {
            "x": {"datum": 9.81, "type": "quantitative", "scale": {"domain": [9.81, 57.35], "nice": false, "zero": false}}
          }
        },
        {
          "data": {"name": "days"},
          "mark": {"type": "rule", "color": "#4d4d4d", "strokeWidth": 1},
          "encoding": {
            "y": {"field": "d", "type": "ordinal", "scale": {"type": "point", "domain": [1,2,3,4,5,6,7,8,9,10], "range": [48.3, 351.6], "padding": 0}, "axis": null}
          }
        },
        {
          "data": {"name": "act"},
          "mark": {"type": "tick", "orient": "vertical", "thickness": 7.7, "color": "black", "opacity": 1},
          "encoding": {
            "x": {"field": "h", "type": "quantitative", "scale": {"domain": [9.81, 57.35], "nice": false, "zero": false}},
            "y": {
              "field": "d", "type": "ordinal",
              "scale": {"type": "point", "domain": [1,2,3,4,5,6,7,8,9,10], "range": [48.3, 351.6], "padding": 0},
              "axis": {"orient": "left", "title": null, "labelExpr": "'Day ' + datum.label", "ticks": false, "domain": false, "labelPadding": 6, "labelFontSize": 12, "labelColor": "#262626", "grid": false}
            },
            "yOffset": {"field": "a", "type": "quantitative", "scale": {"domain": [0, 33.7], "range": [0, -18.2], "nice": false, "zero": false}},
            "size": {"field": "a", "type": "quantitative", "scale": {"domain": [0, 33.7], "range": [0, 36.4], "nice": false, "zero": false}, "legend": null}
          }
        },
        {
          "data": {"name": "vl"},
          "mark": {"type": "rule", "strokeWidth": 2.2, "strokeDash": [10, 6]},
          "encoding": {
            "x": {
              "field": "h", "type": "quantitative",
              "scale": {"domain": [9.81, 57.35], "nice": false, "zero": false},
              "axis": {
                "title": "Hour of Day", "values": [10, 15, 20, 25, 30, 35, 40, 45, 50],
                "labelExpr": "datum.value % 24", "grid": false, "labelFlush": false, "labelOverlap": false,
                "ticks": false, "labelPadding": 6.5, "labelFontSize": 12, "labelColor": "#262626",
                "domainColor": "#262626",
                "titleFontSize": 13, "titleFontWeight": "bold", "titleColor": "#262626", "titlePadding": 4, "titleX": 363
              }
            },
            "y": {"datum": -0.2, "type": "quantitative", "scale": {"domain": [-0.433, 10.101], "range": [0, 355], "nice": false, "zero": false}, "axis": null},
            "y2": {"datum": 10.101},
            "color": {"field": "k", "type": "nominal", "scale": {"domain": ["pm", "am"], "range": ["#595959", "#00ffff"]}, "legend": null}
          }
        }
      ],
      "resolve": {"scale": {"y": "independent"}}
    },
    {
      "layer": [
        {
          "data": {"values": [{}]},
          "mark": {"type": "rect", "fill": "#f0f0f0", "stroke": "#0d4a8b", "strokeWidth": 3.5},
          "encoding": {
            "x": {"datum": -39.1, "type": "quantitative", "scale": {"domain": [0, 56.3], "range": [663.7, 720], "nice": false, "zero": false}, "axis": null},
            "x2": {"datum": 70},
            "y": {"datum": 10.59, "type": "quantitative", "scale": {"domain": [-8.43, 9.03], "range": [396, 86], "nice": false, "zero": false}},
            "y2": {"datum": -12}
          }
        },
        {
          "data": {"values": [{}]},
          "mark": {"type": "rect", "fill": "white"},
          "encoding": {
            "x": {"datum": 0, "type": "quantitative", "scale": {"domain": [0, 56.3], "range": [663.7, 720], "nice": false, "zero": false}, "axis": null},
            "x2": {"datum": 70},
            "y": {"datum": 9.03, "type": "quantitative", "scale": {"domain": [-8.43, 9.03], "range": [396, 86], "nice": false, "zero": false}},
            "y2": {"datum": -12}
          }
        },
        {
          "data": {"name": "thr"},
          "mark": {"type": "line", "color": "#33ee33", "strokeWidth": 1.5, "strokeDash": [6, 4]},
          "encoding": {
            "x": {"field": "t", "type": "quantitative", "scale": {"domain": [0, 56.3], "range": [663.7, 720], "nice": false, "zero": false}, "axis": null},
            "y": {"field": "s", "type": "quantitative", "scale": {"domain": [-8.43, 9.03], "range": [396, 86], "nice": false, "zero": false}}
          }
        },
        {
          "data": {"name": "sw"},
          "mark": {"type": "line", "color": "#0072bd", "strokeWidth": 1.2},
          "encoding": {
            "x": {"field": "t", "type": "quantitative", "scale": {"domain": [0, 56.3], "range": [663.7, 720], "nice": false, "zero": false}, "axis": null},
            "y": {"field": "s", "type": "quantitative", "scale": {"domain": [-8.43, 9.03], "range": [396, 86], "nice": false, "zero": false}}
          }
        },
        {
          "data": {"name": "blk"},
          "mark": {"type": "line", "color": "#333333", "strokeWidth": 1.3},
          "encoding": {
            "x": {"field": "t", "type": "quantitative", "scale": {"domain": [0, 56.3], "range": [663.7, 720], "nice": false, "zero": false}, "axis": null},
            "y": {"field": "s", "type": "quantitative", "scale": {"domain": [-8.43, 9.03], "range": [396, 86], "nice": false, "zero": false}}
          }
        },
        {
          "data": {"name": "red"},
          "mark": {"type": "line", "color": "#ff0000", "strokeWidth": 2.5},
          "encoding": {
            "x": {"field": "t", "type": "quantitative", "scale": {"domain": [0, 56.3], "range": [663.7, 720], "nice": false, "zero": false}, "axis": null},
            "y": {
              "field": "s", "type": "quantitative",
              "scale": {"domain": [-8.43, 9.03], "range": [396, 86], "nice": false, "zero": false},
              "axis": {
                "orient": "left", "offset": -663.7, "values": [-8, -6, -4, -2, 0, 2, 4, 6, 8],
                "title": "Sleep-Wake Statistic", "titleFontSize": 10, "titleFontWeight": "bold", "titleColor": "#262626",
                "titleX": -17.3, "titleY": 228.3, "titleAngle": 270, "titleBaseline": "bottom", "titleAlign": "center",
                "labelFontSize": 11, "labelColor": "#404040", "ticks": false, "labelPadding": 4.4,
                "domainColor": "#404040", "grid": false, "zindex": 1
              }
            }
          }
        }
      ]
    }
  ],
  "resolve": {"scale": {"x": "independent", "y": "independent"}}
}
